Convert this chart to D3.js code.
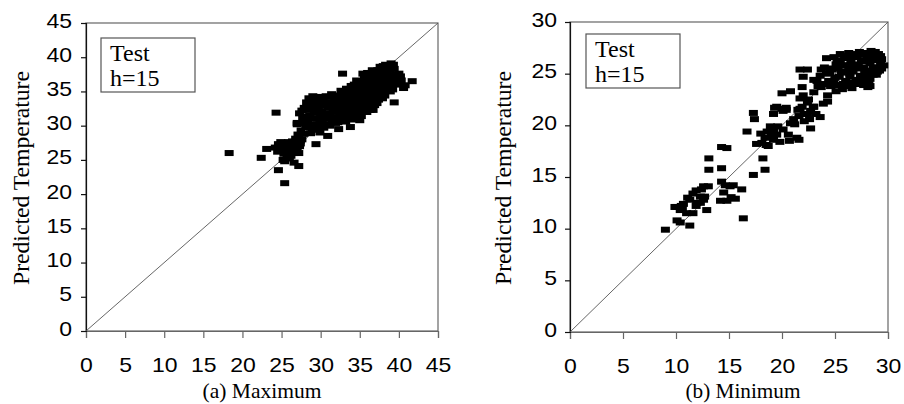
<!DOCTYPE html>
<html>
<head>
<meta charset="utf-8">
<script src="https://cdn.jsdelivr.net/npm/d3@7"></script>
<style>
  body { margin: 0; background: #fff; }
  svg { display: block; }
  .tick text { font-family: Arial, "Liberation Sans", sans-serif; font-size: 20px; fill: #000;
               transform-box: fill-box; transform: scaleX(1.15); }
  .x-axis .tick text { transform-origin: center; }
  .y-axis .tick text { transform-origin: right center; }
  .serif { font-family: "Liberation Serif", "Times New Roman", serif; fill: #000; }
</style>
</head>
<body>
<div id="chart"></div>
<script>
// (a) Maximum: observed (x) vs predicted (y)
const maxActual = [
  18.3, 24.3, 22.4, 23.1, 24.6, 25.4, 26.6, 27.2, 25.4, 29.4, 30.9, 32.8, 39.4, 41.7, 40.6, 40.0, 39.3, 36.7, 37.4, 32.3, 33.8, 34.3,
  24.5, 24.6, 25.2, 25.3, 25.8, 25.9, 26.2, 26.3, 26.7, 26.9, 24.8, 25.6, 26.0, 26.8, 27.3, 27.6, 27.2, 26.0, 27.4, 27.1, 27.8, 27.0, 25.2,
  24.2, 24.9, 25.5, 26.4, 26.5, 27.0, 25.7, 27.4,
  27.2, 27.5, 27.0, 27.7, 27.3, 27.9, 28.1, 27.8, 28.0, 27.6, 28.2, 28.1,
  28.4, 28.6, 28.3, 28.8, 28.5, 28.9, 28.7, 29.0, 29.1, 28.9, 29.0, 29.2,
  29.3, 29.6, 29.2, 29.7, 29.4, 29.8, 29.5, 29.9, 30.0, 29.9, 30.0, 30.1, 29.9,
  30.2, 30.5, 30.1, 30.6, 30.3, 30.7, 30.4, 30.9, 31.0, 30.8, 31.0, 30.9, 31.1,
  31.2, 31.5, 31.1, 31.6, 31.3, 31.8, 31.4, 31.9, 32.0, 31.9, 32.0, 32.0, 32.1,
  32.2, 32.5, 32.1, 32.7, 32.4, 32.8, 32.6, 32.9, 33.0, 32.8, 33.0, 33.0, 33.1,
  33.2, 33.5, 33.1, 33.7, 33.4, 33.8, 33.3, 33.9, 34.0, 33.8, 34.0, 34.0, 34.0, 33.9,
  34.2, 34.5, 34.1, 34.7, 34.4, 34.8, 34.3, 34.6, 34.9, 35.0, 34.9, 35.0, 35.0, 35.0, 35.0,
  35.2, 35.5, 35.1, 35.7, 35.4, 35.8, 35.3, 35.6, 35.4, 35.9, 35.9, 35.9, 36.0, 36.0, 35.9, 36.0, 36.0,
  36.2, 36.5, 36.1, 36.7, 36.4, 36.8, 36.3, 36.6, 36.9, 36.9, 36.9, 37.0, 37.0, 36.9, 37.0,
  37.2, 37.5, 37.1, 37.7, 37.4, 37.8, 37.3, 37.6, 37.9, 37.9, 37.9, 38.0, 38.0, 38.0, 38.0,
  38.2, 38.5, 38.1, 38.7, 38.4, 38.8, 38.3, 38.9, 38.9, 38.9, 39.0, 38.9,
  39.2, 39.5, 39.1, 39.7, 39.4, 39.0, 39.9, 39.9, 40.2,
  40.3, 40.8, 35.0, 36.3
];
const maxPredicted = [
  26.0, 31.9, 25.3, 26.6, 23.5, 21.6, 24.6, 24.1, 24.8, 27.3, 28.5, 37.6, 33.4, 36.5, 35.5, 37.6, 38.9, 32.3, 33.8, 29.5, 29.8, 30.9,
  26.2, 27.3, 26.9, 25.9, 26.6, 27.6, 25.6, 26.9, 27.4, 26.3, 26.5, 27.2, 26.1, 28.1, 27.0, 28.0, 26.0, 25.2, 27.4, 28.7, 30.4, 30.4, 25.0,
  26.8, 27.6, 26.3, 27.7, 26.0, 26.8, 25.4, 27.8,
  28.4, 29.3, 30.2, 31.0, 31.8, 32.6, 29.8, 28.8, 30.6, 32.2, 33.4, 31.3,
  30.6, 31.5, 32.3, 33.2, 34.0, 29.6, 28.9, 30.2, 31.1, 32.7, 34.3, 33.0,
  30.1, 31.0, 31.9, 32.7, 33.5, 34.2, 29.4, 29.0, 30.0, 30.8, 31.7, 33.3, 34.1,
  30.4, 31.3, 32.1, 32.9, 33.7, 34.3, 29.7, 30.2, 31.0, 31.8, 32.6, 33.4, 34.2,
  30.0, 30.9, 31.7, 32.5, 33.3, 34.1, 34.6, 30.4, 31.2, 32.0, 32.9, 33.6, 34.4,
  30.5, 31.4, 32.2, 33.0, 33.8, 34.6, 35.1, 30.8, 31.7, 32.5, 33.4, 34.2, 35.0,
  30.6, 31.5, 32.4, 33.2, 34.0, 34.8, 35.4, 31.0, 31.9, 32.7, 33.5, 34.3, 35.1, 35.8,
  31.2, 32.0, 32.8, 33.6, 34.4, 35.2, 36.0, 36.6, 31.6, 32.5, 33.3, 34.1, 34.9, 35.7, 36.5,
  31.4, 32.3, 33.1, 33.9, 34.7, 35.5, 36.3, 37.0, 37.6, 32.0, 32.9, 33.7, 34.5, 35.3, 36.1, 36.9, 37.7,
  32.6, 33.4, 34.2, 35.0, 35.8, 36.6, 37.4, 38.1, 33.0, 33.8, 34.6, 35.4, 36.2, 37.0, 37.8,
  33.3, 34.2, 35.0, 35.8, 36.6, 37.4, 38.1, 38.6, 34.0, 34.8, 35.6, 36.4, 37.2, 38.0, 38.7,
  34.4, 35.2, 36.0, 36.8, 37.6, 38.3, 38.9, 35.0, 35.8, 36.6, 37.4, 38.2,
  35.3, 36.1, 36.9, 37.4, 38.3, 39.1, 36.0, 36.8, 37.2,
  36.6, 35.9, 30.8, 32.3
];

// (b) Minimum: observed (x) vs predicted (y)
const minActual = [
  9.0, 10.1, 10.4, 10.1, 10.4, 11.3, 11.0, 11.6, 10.7, 11.3, 11.6, 11.9, 12.3, 12.6, 12.3, 12.9, 13.05, 11.9, 12.4, 11.1, 10.6, 9.9, 10.5, 11.95,
  13.1, 13.1, 14.3, 14.3, 14.8, 14.3, 14.2, 14.8, 14.65, 15.1, 15.4, 16.2, 15.6, 15.2, 16.35, 14.5, 12.6, 12.7, 17.3, 18.4, 18.2,
  16.7, 17.3, 17.4, 17.6, 18.1, 18.4, 18.6, 18.9, 19.2, 18.5, 19.2, 19.5, 19.8, 19.2, 19.3, 20.0, 20.4, 20.0, 20.8, 20.1, 20.6, 20.7, 21.4, 21.6,
  18.0, 19.0, 19.6, 18.7,
  20.8, 21.1, 21.6, 21.7, 22.1, 22.4, 22.7, 23.0, 23.2, 23.6, 22.7, 21.7, 22.0, 21.9, 22.0, 21.7, 22.4, 23.0, 23.4, 23.0, 23.7, 24.2, 23.7,
  22.1, 22.6, 21.9, 22.4, 21.2,
  24.3, 24.3, 24.6, 24.9, 25.1, 23.9, 23.3, 24.4, 24.2, 24.8, 22.5, 22.95, 20.4, 21.5, 19.5, 20.1,
  23.6, 24.0, 24.5, 24.0,
  24.6, 25.0, 24.7, 25.2, 24.9, 25.3, 25.4, 25.3, 25.5, 25.5, 24.8, 25.1,
  25.7, 26.0, 25.6, 26.2, 25.9, 26.3, 26.3, 26.4, 26.3, 26.5, 26.6, 25.8, 25.9, 25.8, 26.1, 26.5, 26.4, 26.0,
  26.6, 27.0, 26.7, 27.2, 26.9, 27.3, 27.3, 27.4, 27.3, 27.5, 27.6, 26.8, 26.9, 27.0, 27.1, 27.5, 27.8, 27.7,
  27.6, 28.0, 27.7, 28.2, 27.9, 28.3, 28.1, 28.3, 28.4, 28.3, 28.5, 28.4, 27.8, 27.9, 28.0, 28.6, 28.2,
  28.6, 29.0, 28.7, 29.1, 28.8, 28.9, 29.2, 29.3, 28.8, 28.9, 29.4, 29.3, 29.0,
  29.6, 29.4, 28.6
];
const minPredicted = [
  9.9, 12.1, 11.8, 10.8, 10.6, 10.3, 11.5, 11.5, 12.4, 12.8, 13.4, 13.7, 13.1, 12.8, 12.5, 11.8, 14.1, 12.2, 13.8, 13.0, 12.0, 12.1, 12.2, 12.5,
  16.8, 15.7, 15.85, 17.9, 17.8, 14.55, 12.7, 12.7, 14.2, 14.1, 14.2, 13.8, 12.9, 13.05, 11.0, 13.5, 14.1, 13.1, 15.2, 15.7, 16.8,
  19.4, 21.2, 20.6, 18.2, 18.3, 18.8, 19.4, 19.9, 19.4, 18.1, 18.6, 19.1, 18.4, 21.1, 21.7, 21.6, 21.7, 23.1, 23.3, 19.6, 19.1, 18.5, 18.8, 18.6,
  19.2, 18.9, 19.9, 18.0,
  20.2, 20.6, 20.9, 21.6, 21.1, 21.1, 21.4, 21.8, 21.1, 20.8, 19.7, 22.6, 22.9, 23.7, 24.7, 25.4, 25.4, 24.4, 23.8, 23.2, 23.7, 26.5, 25.4,
  20.4, 20.6, 21.8, 22.2, 20.1,
  22.3, 22.9, 23.8, 24.2, 23.3, 22.1, 24.3, 24.3, 25.0, 25.5, 22.5, 21.8, 21.5, 21.5, 21.8, 21.4,
  24.8, 24.0, 25.1, 25.6,
  23.8, 24.6, 25.4, 26.1, 26.6, 23.9, 24.7, 25.5, 26.3, 26.9, 24.2, 25.9,
  23.5, 24.3, 25.1, 25.8, 26.5, 27.0, 23.9, 24.7, 25.5, 26.2, 26.9, 24.0, 25.8, 25.2, 26.7, 24.0, 25.0, 23.8,
  23.6, 24.4, 25.2, 25.9, 26.6, 27.1, 24.0, 24.8, 25.5, 26.3, 26.9, 24.1, 25.7, 25.6, 26.6, 24.4, 25.2, 23.9,
  24.2, 24.9, 25.6, 26.3, 27.0, 23.8, 23.7, 24.5, 25.3, 26.0, 26.6, 27.2, 24.6, 26.2, 26.6, 25.6, 24.2,
  24.9, 25.6, 26.3, 26.9, 27.1, 24.9, 25.3, 26.0, 25.0, 26.5, 25.5, 26.7, 25.2,
  25.8, 26.4, 26.8
];

const maxTicks = [0, 5, 10, 15, 20, 25, 30, 35, 40, 45];
const minTicks = [0, 5, 10, 15, 20, 25, 30];
const captions = ["(a) Maximum", "(b) Minimum"];
const yTitle = "Predicted Temperature";
const legendLines = ["Test", "h=15"];

const WIDTH = 904;
const HEIGHT = 404;

const svg = d3.select("#chart").append("svg")
    .attr("width", WIDTH)
    .attr("height", HEIGHT);

/**
 * draws one scatter panel
 */
function drawPanel(cfg)
{
    const x = d3.scaleLinear().domain([0, cfg.max]).range([cfg.left, cfg.right]);
    const y = d3.scaleLinear().domain([0, cfg.max]).range([cfg.bottom, cfg.top]);

    const g = svg.append("g");

    // frame (top / right / bottom in grey)
    g.append("rect")
        .attr("x", cfg.left)
        .attr("y", cfg.top)
        .attr("width", cfg.right - cfg.left)
        .attr("height", cfg.bottom - cfg.top)
        .attr("fill", "none")
        .attr("stroke", "#666")
        .attr("stroke-width", 1.2);

    const xAxis = g.append("g")
        .attr("class", "x-axis")
        .attr("transform", `translate(0, ${cfg.bottom})`)
        .call(d3.axisBottom(x).tickValues(cfg.ticks).tickSize(7).tickPadding(20).tickFormat(d3.format("d")));
    xAxis.select(".domain").attr("stroke", "#666").attr("stroke-width", 1.2);
    xAxis.selectAll(".tick line").attr("stroke", "#666").attr("stroke-width", 1.2);

    const yAxis = g.append("g")
        .attr("class", "y-axis")
        .attr("transform", `translate(${cfg.left}, 0)`)
        .call(d3.axisLeft(y).tickValues(cfg.ticks).tickSize(5).tickPadding(cfg.yPad).tickFormat(d3.format("d")));
    yAxis.select(".domain").attr("stroke", "#111").attr("stroke-width", 1.2);
    yAxis.selectAll(".tick line").attr("stroke", "#111").attr("stroke-width", 1.2);
    yAxis.selectAll(".tick text").attr("dy", "0.2em");

    // 1:1 line
    g.append("line")
        .attr("x1", x(0)).attr("y1", y(0))
        .attr("x2", x(cfg.max)).attr("y2", y(cfg.max))
        .attr("stroke", "#555")
        .attr("stroke-width", 0.9);

    // points
    g.append("g").selectAll("rect")
        .data(cfg.xs.map((v, i) => [v, cfg.ys[i]]))
        .join("rect")
        .attr("x", d => x(d[0]) - cfg.mw / 2)
        .attr("y", d => y(d[1]) - cfg.mh / 2)
        .attr("width", cfg.mw)
        .attr("height", cfg.mh)
        .attr("fill", "#000");

    // legend box
    g.append("rect")
        .attr("x", cfg.legend[0])
        .attr("y", cfg.legend[1])
        .attr("width", 94)
        .attr("height", 54)
        .attr("fill", "#fff")
        .attr("stroke", "#555")
        .attr("stroke-width", 1.2);

    g.selectAll(".legendText")
        .data(legendLines)
        .join("text")
        .attr("class", "serif legendText")
        .attr("x", cfg.legend[0] + 9)
        .attr("y", (d, i) => cfg.legend[1] + 23 + i * 25)
        .attr("font-size", "24px")
        .text(d => d);

    // y title
    g.append("text")
        .attr("class", "serif")
        .attr("transform", `translate(${cfg.yTitleX}, ${(cfg.top + cfg.bottom) / 2 + 1}) rotate(-90)`)
        .attr("text-anchor", "middle")
        .attr("font-size", "23px")
        .attr("textLength", 214)
        .attr("lengthAdjust", "spacingAndGlyphs")
        .text(yTitle);

    // caption
    g.append("text")
        .attr("class", "serif")
        .attr("x", cfg.captionX)
        .attr("y", 398)
        .attr("text-anchor", "middle")
        .attr("font-size", "21px")
        .attr("textLength", cfg.captionW)
        .attr("lengthAdjust", "spacingAndGlyphs")
        .text(cfg.caption);
}

drawPanel({
    left: 86, right: 438, top: 23, bottom: 331,
    max: 45, ticks: maxTicks, yPad: 9,
    xs: maxActual, ys: maxPredicted, mw: 9, mh: 6,
    legend: [101, 38], yTitleX: 29,
    caption: captions[0], captionX: 262, captionW: 119
});

drawPanel({
    left: 570, right: 888, top: 22, bottom: 332,
    max: 30, ticks: minTicks, yPad: 8,
    xs: minActual, ys: minPredicted, mw: 9, mh: 6,
    legend: [586, 34], yTitleX: 511,
    caption: captions[1], captionX: 743, captionW: 115
});
</script>
</body>
</html>
